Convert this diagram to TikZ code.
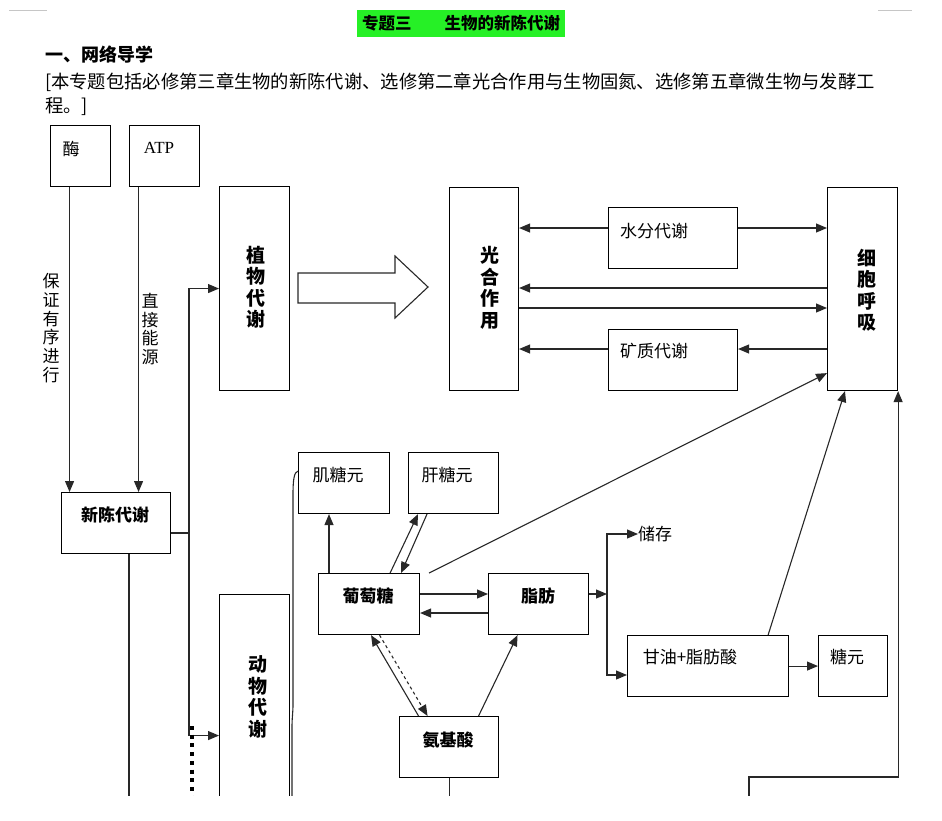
\documentclass[tikz,border=0pt]{standalone}
\usepackage{fontspec}
\setmainfont{Noto Sans CJK SC}
\newfontfamily\serifen{Liberation Serif}
\usetikzlibrary{arrows.meta}
\definecolor{titlegreen}{RGB}{38,240,38}
\definecolor{ln}{RGB}{40,40,40}
\begin{document}
\begin{tikzpicture}[x=1pt,y=-1pt,
  box/.style={draw=black,line width=1.1pt,anchor=north west,inner sep=0pt},
  lbl/.style={inner sep=0pt,font=\fontsize{17}{17}\selectfont},
  blbl/.style={inner sep=0pt,font=\bfseries\fontsize{17}{17}\selectfont},
  vlbl/.style={inner sep=0pt,align=center,font=\bfseries\fontsize{19}{21.5}\selectfont},
  vnote/.style={inner sep=0pt,align=center,font=\fontsize{17}{18.7}\selectfont},
  conn/.style={draw=ln,line width=1.1pt},
  arr/.style={conn,-{Triangle[length=11pt,width=9pt]}},
  dotline/.style={draw=black,line width=3.5pt,dash pattern=on 4pt off 4.7pt},
  hollow/.style={draw=ln,line width=1.1pt,fill=white},
  cornermark/.style={draw=gray!45,line width=0.8pt}
]
\useasboundingbox[fill=white] (0,0) rectangle (942,820);
\begin{scope}
\clip (0,0) rectangle (942,795);
% page corner marks
\draw[cornermark] (9,10) -- (47,10);
\draw[cornermark] (878,10) -- (912,10);
% title and intro
\node[fill=titlegreen,minimum width=208pt,minimum height=27pt,inner sep=0pt,anchor=north west,font=\bfseries\fontsize{16.5}{17}\selectfont] (title) at (357,10) {专题三\hspace{2em}生物的新陈代谢};
\node[anchor=west,inner sep=0pt,font=\bfseries\fontsize{18}{18}\selectfont] (head) at (45,55) {一、网络导学};
\node[anchor=west,inner sep=0pt,font=\fontsize{18.3}{18.3}\selectfont] (p1) at (45,82) {[本专题包括必修第三章生物的新陈代谢、选修第二章光合作用与生物固氮、选修第五章微生物与发酵工};
\node[anchor=west,inner sep=0pt,font=\fontsize{18.3}{18.3}\selectfont] (p2) at (45,106) {程。]};
% row coordinates
\coordinate (r1) at (0,228);
\coordinate (r2) at (0,288);
\coordinate (r3) at (0,308);
\coordinate (r4) at (0,349);
\coordinate (r5) at (0,594);
\coordinate (r6) at (0,613);
\coordinate (r7) at (0,675);
\coordinate (r8) at (0,777);
% top boxes
\node[box,minimum width=60pt,minimum height=61pt] (mei) at (50,125) {};
\node[lbl] (meit) at (71,149) {酶};
\node[box,minimum width=70pt,minimum height=61pt] (atp) at (129,125) {};
\node[inner sep=0pt,font=\serifen\fontsize{17}{17}\selectfont] (atpt) at (159,148) {ATP};
\node[box,minimum width=70pt,minimum height=204pt] (zhiwu) at (219,186) {};
\node[vlbl] (zhiwut) at (256,287) {植\\物\\代\\谢};
\node[box,minimum width=69pt,minimum height=203pt] (guang) at (449,187) {};
\node[vlbl] (guangt) at (490,288) {光\\合\\作\\用};
\node[box,minimum width=70pt,minimum height=203pt] (xibao) at (827,187) {};
\node[vlbl] (xibaot) at (867,290) {细\\胞\\呼\\吸};
\node[box,minimum width=129pt,minimum height=61pt] (shui) at (608,207) {};
\node[lbl,anchor=west] (shuit) at (620,231) {水分代谢};
\node[box,minimum width=129pt,minimum height=61pt] (kuang) at (608,329) {};
\node[lbl,anchor=west] (kuangt) at (620,351) {矿质代谢};
% hollow arrow
\draw[hollow] (298,273) -- (395,273) -- (395,256) -- (428,287) -- (395,318) -- (395,303) -- (298,303) -- cycle;
% vertical notes
\node[vnote] (n1) at (51,328) {保\\证\\有\\序\\进\\行};
\node[vnote] (n2) at (150,329) {直\\接\\能\\源};
% metabolism boxes
\node[box,minimum width=109pt,minimum height=61pt] (xinchen) at (61,492) {};
\node[blbl] (xinchent) at (115,515) {新陈代谢};
\node[box,minimum width=70pt,minimum height=282pt] (dongwu) at (219,594) {};
\node[vlbl] (dongwut) at (258,697) {动\\物\\代\\谢};
% lower boxes
\node[box,minimum width=91pt,minimum height=61pt] (jitang) at (298,452) {};
\node[lbl] (jitangt) at (338,475) {肌糖元};
\node[box,minimum width=90pt,minimum height=61pt] (gantang) at (408,452) {};
\node[lbl] (gantangt) at (447,475) {肝糖元};
\node[box,minimum width=101pt,minimum height=61pt] (putao) at (318,573) {};
\node[blbl] (putaot) at (368,596) {葡萄糖};
\node[box,minimum width=100pt,minimum height=61pt] (zhifang) at (488,573) {};
\node[blbl] (zhifangt) at (538,596) {脂肪};
\node[box,minimum width=99pt,minimum height=61pt] (anji) at (399,716) {};
\node[blbl] (anjit) at (448,740) {氨基酸};
\node[box,minimum width=161pt,minimum height=61pt] (ganyou) at (627,635) {};
\node[lbl] (ganyout) at (690,657) {甘油+脂肪酸};
\node[box,minimum width=69pt,minimum height=61pt] (tangyuan) at (818,635) {};
\node[lbl] (tangyuant) at (847,657) {糖元};
\node[lbl,anchor=west] (chucun) at (638,534) {储存};
% free-end coordinates
\coordinate (bus) at (189,533);
\coordinate (dA) at (192,726);
\coordinate (dB) at (192,800);
\coordinate (xb) at (129,800);
\coordinate (c329) at (329,0);
\coordinate (fork) at (607,594);
\coordinate (lb) at (749,800);
\coordinate (cv) at (292,800);
% plant connectors
\draw[arr] (shui.west |- r1) -- (guang.east |- r1);
\draw[arr] (shui.east |- r1) -- (xibao.west |- r1);
\draw[arr] (xibao.west |- r2) -- (guang.east |- r2);
\draw[arr] (guang.east |- r3) -- (xibao.west |- r3);
\draw[arr] (xibao.west |- r4) -- (kuang.east |- r4);
\draw[arr] (kuang.west |- r4) -- (guang.east |- r4);
% left connectors
\draw[arr] ([xshift=-11pt]mei.south) -- ([xshift=-11pt]mei.south |- xinchen.north);
\draw[arr] ([xshift=-26pt]atp.south) -- ([xshift=-26pt]atp.south |- xinchen.north);
\draw[conn] (xinchen.east |- bus) -- (bus);
\draw[arr] (bus) |- (zhiwu.west);
\draw[arr] (bus) |- (dongwu.west);
\draw[dotline] (dA) -- (dB);
\draw[conn] (xinchen.south -| xb) -- (xb);
\draw[conn] ([yshift=12pt]jitang.west) .. controls (294,472) and (293,480) .. (293,495) -- (293,704) .. controls (293,714) and (292,716) .. (292,728) -- (cv);
% animal connectors
\draw[arr] (putao.north -| c329) -- (jitang.south -| c329);
\draw[arr] ([xshift=-30pt]putao.north east) -- ([xshift=10pt]gantang.south west);
\draw[arr] ([xshift=19pt]gantang.south west) -- ([xshift=-19pt]putao.north east);
\draw[arr] ([xshift=9pt]putao.north east) -- ([yshift=18pt]xibao.south west);
\draw[arr] (putao.east |- r5) -- (zhifang.west |- r5);
\draw[arr] (zhifang.west |- r6) -- (putao.east |- r6);
\draw[arr] ([xshift=-30.5pt]anji.north) -- ([xshift=2pt]putao.south);
\draw[arr,dashed] ([xshift=10.5pt]putao.south) -- ([xshift=-21.5pt]anji.north);
\draw[arr] ([xshift=29.5pt]anji.north) -- ([xshift=-21pt]zhifang.south);
\draw[arr] (zhifang.east |- r5) -- (fork);
\draw[arr] (fork) |- (chucun.west);
\draw[arr] (fork) |- (ganyou.west |- r7);
\draw[arr] (ganyou.east) -- (tangyuan.west);
\draw[arr] ([xshift=-21pt]ganyou.north east) -- ([xshift=18pt]xibao.south west);
\draw[arr] (lb) |- (xibao.south east |- r8) -- (xibao.south east);
\draw[conn] (anji.south) -- (anji.south |- lb);
\end{scope}
\end{tikzpicture}
\end{document}
